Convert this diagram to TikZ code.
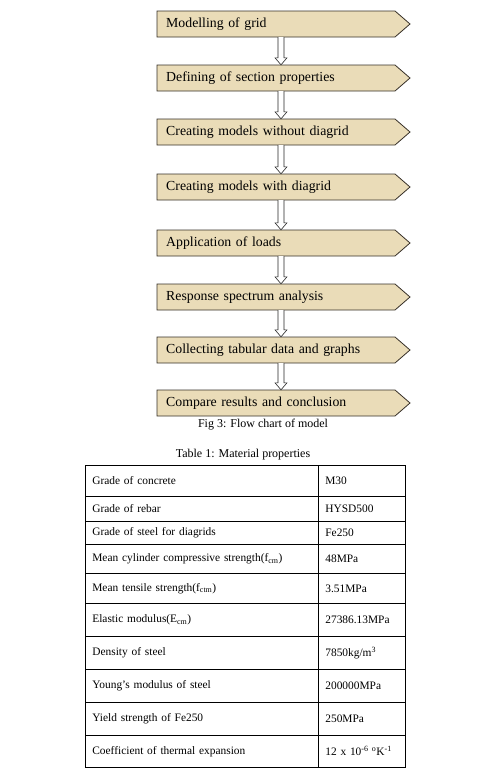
\documentclass[tikz,border=0pt]{standalone}
\usepackage{fontspec}
\setmainfont{Liberation Serif}
\usetikzlibrary{calc}
\definecolor{parch}{RGB}{234,220,184}
\definecolor{edge}{RGB}{55,48,40}
\tikzset{
  boxshape/.style={fill=parch, draw=edge, line width=0.8pt, line join=miter},
  steptext/.style={anchor=west, minimum height=26pt, text width=220pt, inner xsep=9pt, inner ysep=0pt, align=left, font=\fontsize{13.8}{16}\selectfont},
  hollowarrow/.style={draw=black!85, fill=white, line width=0.6pt, line join=miter},
  cellL/.style={draw, line width=0.7pt, anchor=north west, text width=219pt, inner xsep=7pt, inner ysep=0pt, align=left, font=\fontsize{11.4}{13}\selectfont},
  cellR/.style={draw, line width=0.7pt, anchor=north west, text width=73pt, inner xsep=7pt, inner ysep=0pt, align=left, font=\fontsize{11.4}{13}\selectfont},
  captext/.style={font=\fontsize{12}{14}\selectfont, inner sep=0pt}
}
\newcommand\flowstep[3]{%
  \path[boxshape] (157,#2) -- (395,#2) -- (410,#2+13) -- (395,#2+26) -- (157,#2+26) -- cycle;
  \node[steptext] (#1) at (157,#2+13) {#3};}
\newcommand\flowarrow[2]{%
  \draw[hollowarrow] let \p1=(#1.south -| ax), \p2=(#2.north -| ax) in
  (\x1-3pt,\y1) -- (\x1-3pt,\y2+7pt) -- (\x1-6pt,\y2+7pt) -- (\x1,\y2) -- (\x1+6pt,\y2+7pt) -- (\x1+3pt,\y2+7pt) -- (\x1+3pt,\y1);}
\begin{document}
\begin{tikzpicture}[x=1pt,y=-1pt]
\useasboundingbox (0,0) rectangle (479,774);
\coordinate (ax) at (281,0);
\flowstep{s1}{11}{Modelling of grid}
\flowstep{s2}{65}{Defining of section properties}
\flowstep{s3}{119}{Creating models without diagrid}
\flowstep{s4}{174}{Creating models with diagrid}
\flowstep{s5}{230}{Application of loads}
\flowstep{s6}{284}{Response spectrum analysis}
\flowstep{s7}{337}{Collecting tabular data and graphs}
\flowstep{s8}{390}{Compare results and conclusion}
\flowarrow{s1}{s2}
\flowarrow{s2}{s3}
\flowarrow{s3}{s4}
\flowarrow{s4}{s5}
\flowarrow{s5}{s6}
\flowarrow{s6}{s7}
\flowarrow{s7}{s8}
\node[captext] (fig) at (263,425) {Fig 3: Flow chart of model};
\node[captext] (tab) at (243,455) {Table 1: Material properties};
\foreach \i/\t/\b/\l/\r in {
  1/465/496/{Grade of concrete}/{M30},
  2/496/521/{Grade of rebar}/{HYSD500},
  3/521/544/{Grade of steel for diagrids}/{Fe250},
  4/544/573/{Mean cylinder compressive strength(f\textsubscript{cm})}/{48MPa},
  5/573/603/{Mean tensile strength(f\textsubscript{ctm})}/{3.51MPa},
  6/603/636/{Elastic modulus(E\textsubscript{cm})}/{27386.13MPa},
  7/636/669/{Density of steel}/{7850kg/m\textsuperscript{3}},
  8/669/702/{Young’s modulus of steel}/{200000MPa},
  9/702/735/{Yield strength of Fe250}/{250MPa},
  10/735/767/{Coefficient of thermal expansion}/{12 x 10\textsuperscript{-6 o}K\textsuperscript{-1}}}{
  \pgfmathsetmacro\h{\b-\t}
  \node[cellL, minimum height=\h pt] (l\i) at (85,\t) {\l};
  \node[cellR, minimum height=\h pt] (r\i) at (318,\t) {\r};
}
\end{tikzpicture}
\end{document}
